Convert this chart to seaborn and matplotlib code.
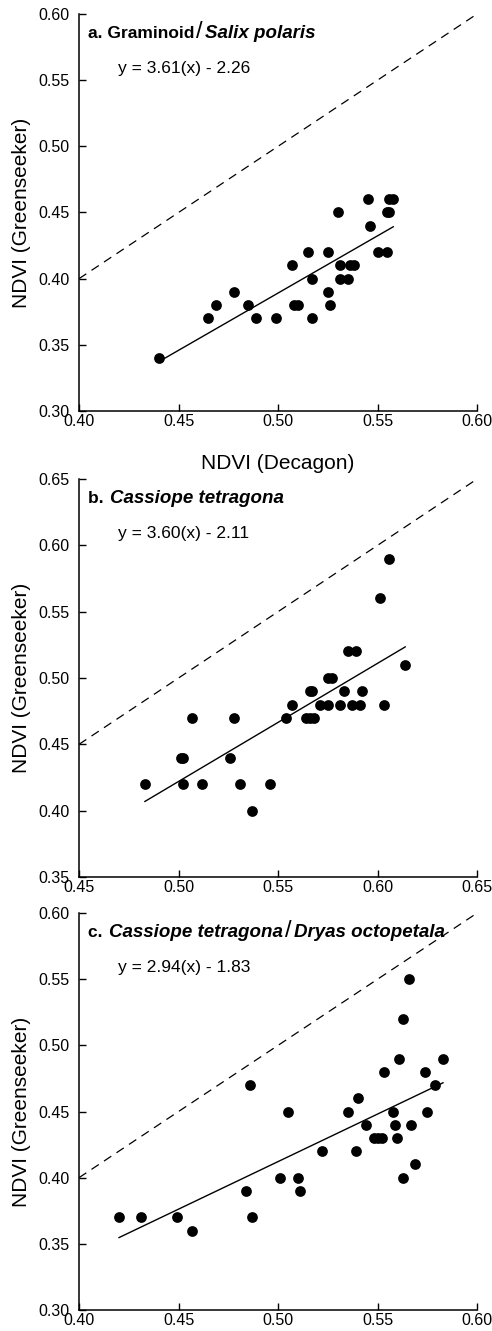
import numpy as np
import pandas as pd
import matplotlib
matplotlib.use('Agg')
import matplotlib.pyplot as plt
import seaborn as sns

# panel a: Graminoid / Salix polaris
a_decagon = [0.440, 0.465, 0.469, 0.478, 0.485, 0.489, 0.499, 0.507, 0.508, 0.510,
             0.515, 0.517, 0.517, 0.525, 0.525, 0.526, 0.530, 0.531, 0.531, 0.535,
             0.536, 0.538, 0.545, 0.546, 0.550, 0.555, 0.556, 0.555, 0.556, 0.558]
a_green = [0.34, 0.37, 0.38, 0.39, 0.38, 0.37, 0.37, 0.41, 0.38, 0.38,
           0.42, 0.40, 0.37, 0.42, 0.39, 0.38, 0.45, 0.41, 0.40, 0.40,
           0.41, 0.41, 0.46, 0.44, 0.42, 0.45, 0.45, 0.42, 0.46, 0.46]

# panel b: Cassiope tetragona
b_decagon = [0.483, 0.501, 0.502, 0.502, 0.507, 0.512, 0.526, 0.528, 0.531, 0.537,
             0.546, 0.554, 0.557, 0.564, 0.566, 0.568, 0.566, 0.567, 0.571, 0.575,
             0.577, 0.575, 0.581, 0.583, 0.585, 0.587, 0.589, 0.591, 0.592, 0.601,
             0.603, 0.606, 0.614]
b_green = [0.42, 0.44, 0.44, 0.42, 0.47, 0.42, 0.44, 0.47, 0.42, 0.40,
           0.42, 0.47, 0.48, 0.47, 0.47, 0.47, 0.49, 0.49, 0.48, 0.50,
           0.50, 0.48, 0.48, 0.49, 0.52, 0.48, 0.52, 0.48, 0.49, 0.56,
           0.48, 0.59, 0.51]

# panel c: Cassiope tetragona / Dryas octopetala
c_decagon = [0.420, 0.431, 0.449, 0.457, 0.484, 0.486, 0.487, 0.501, 0.505, 0.510,
             0.511, 0.522, 0.535, 0.539, 0.540, 0.544, 0.548, 0.550, 0.552, 0.553,
             0.558, 0.559, 0.560, 0.561, 0.563, 0.563, 0.566, 0.567, 0.569, 0.574,
             0.575, 0.579, 0.583]
c_green = [0.37, 0.37, 0.37, 0.36, 0.39, 0.47, 0.37, 0.40, 0.45, 0.40,
           0.39, 0.42, 0.45, 0.42, 0.46, 0.44, 0.43, 0.43, 0.43, 0.48,
           0.45, 0.44, 0.43, 0.49, 0.40, 0.52, 0.55, 0.44, 0.41, 0.48,
           0.45, 0.47, 0.49]

x_limits = [(0.40, 0.60), (0.45, 0.65), (0.40, 0.60)]
y_limits = [(0.30, 0.60), (0.35, 0.65), (0.30, 0.60)]
equations = ['y = 3.61(x) - 2.26', 'y = 3.60(x) - 2.11', 'y = 2.94(x) - 1.83']
titles = [[('a. Graminoid', 'normal'), ('/', 'slash'), ('Salix polaris', 'italic')],
          [('b. ', 'normal'), ('Cassiope tetragona', 'italic')],
          [('c. ', 'normal'), ('Cassiope tetragona', 'italic'), ('/', 'slash'),
           ('Dryas octopetala', 'italic')]]

sns.set_style('ticks')
plt.rcParams['font.family'] = ['Liberation Sans', 'DejaVu Sans']
plt.rcParams.update({'text.color': 'black', 'axes.labelcolor': 'black',
                     'xtick.color': 'black', 'ytick.color': 'black',
                     'axes.edgecolor': 'black'})

fig = plt.figure(figsize=(4.92, 13.31), dpi=100)
positions = [[0.1606, 0.6912, 0.809, 0.2983],
             [0.1606, 0.3411, 0.809, 0.2990],
             [0.1606, 0.0158, 0.809, 0.2982]]

panels = [(a_decagon, a_green), (b_decagon, b_green), (c_decagon, c_green)]
renderer = fig.canvas.get_renderer()

for i, (xs, ys) in enumerate(panels):
    ax = fig.add_axes(positions[i])
    df = pd.DataFrame({'decagon': xs, 'greenseeker': ys})

    # 1:1 line
    ax.axline((0, 0), slope=1, color='black', lw=0.9, ls=(0, (7, 5)))
    sns.regplot(data=df, x='decagon', y='greenseeker', ax=ax, scatter=False, ci=None,
                line_kws={'color': 'black', 'lw': 1.0})
    sns.scatterplot(data=df, x='decagon', y='greenseeker', ax=ax, color='black',
                    s=60, edgecolor='black', linewidth=0, zorder=3)

    ax.set_xlim(*x_limits[i])
    ax.set_ylim(*y_limits[i])
    ax.set_xticks(np.arange(x_limits[i][0], x_limits[i][1] + 0.001, 0.05))
    ax.set_yticks(np.arange(y_limits[i][0], y_limits[i][1] + 0.001, 0.05))
    ax.xaxis.set_major_formatter(matplotlib.ticker.FormatStrFormatter('%.2f'))
    ax.yaxis.set_major_formatter(matplotlib.ticker.FormatStrFormatter('%.2f'))
    ax.tick_params(direction='in', length=5, width=1, labelsize=11.5, pad=2)
    ax.tick_params(axis='y', pad=7)
    sns.despine(ax=ax)
    for sp in ['left', 'bottom']:
        ax.spines[sp].set_linewidth(1.1)

    ax.set_ylabel('NDVI (Greenseeker)', fontsize=15, labelpad=5)
    if i == 0:
        ax.set_xlabel('NDVI (Decagon)', fontsize=15, labelpad=18)
    else:
        ax.set_xlabel('')

    # panel title built from pieces on one baseline
    x_pos = 0.022
    for txt, kind in titles[i]:
        kw = dict(fontsize=12.5, fontweight='bold')
        if kind == 'italic':
            kw = dict(fontsize=13.5, fontweight='bold', fontstyle='italic')
        if kind == 'slash':
            kw = dict(fontsize=17, fontweight='normal')
        t = ax.text(x_pos, 0.94, txt, transform=ax.transAxes, ha='left',
                    va='baseline', **kw)
        ext = t.get_window_extent(renderer)
        x_pos = ax.transAxes.inverted().transform((ext.x1 + 2, ext.y0))[0]
    ax.text(0.098, 0.862, equations[i], transform=ax.transAxes, fontsize=12.5,
            ha='left', va='center')

fig.savefig('out.png', dpi=100)
